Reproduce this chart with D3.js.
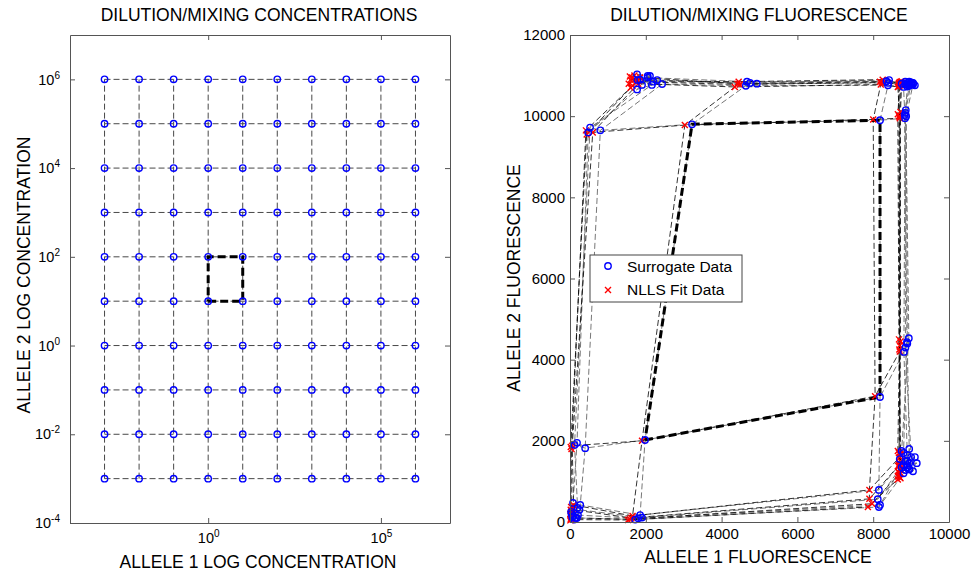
<!DOCTYPE html>
<html>
<head>
<meta charset="utf-8">
<script src="https://cdn.jsdelivr.net/npm/d3@7"></script>
<style>
  body { margin: 0; background: #fff; }
  text { font-family: "Liberation Sans", Arial, Helvetica, sans-serif; fill: #000; }
</style>
</head>
<body>
<svg id="chart" width="976" height="575"></svg>
<script>
// log10 of the concentration at each dilution step
const allele1Exps = [-3, -2, -1, 0, 1, 2, 3, 4, 5, 6];
const allele2Exps = [-3, -2, -1, 0, 1, 2, 3, 4, 5, 6];

const concXTicks = [0, 5];
const concYTicks = [-4, -2, 0, 2, 4, 6];
const fluoXTicks = [0, 2000, 4000, 6000, 8000, 10000];
const fluoYTicks = [0, 2000, 4000, 6000, 8000, 10000, 12000];

// highlighted cell: allele 1 steps 3..4, allele 2 steps 4..5
const boxCols = [3, 4];
const boxRows = [4, 5];

// fluorescence tables: one row per allele 2 step, one column per allele 1 step
const surrF1 = [
  [60, 110, 180, 1720, 8150, 8800, 8950, 9050, 8900, 8850],
  [90, 40, 210, 1800, 8180, 8750, 8900, 9150, 8950, 8800],
  [30, 150, 250, 1900, 8120, 8850, 8700, 8950, 9100, 8900],
  [80, 200, 270, 1850, 8150, 8900, 8800, 8750, 9000, 8950],
  [185, 120, 400, 1980, 8180, 8810, 8890, 8940, 8850, 8900],
  [480, 530, 800, 3220, 8180, 8840, 8830, 8860, 8850, 8870],
  [1770, 2160, 2430, 4640, 8390, 8800, 8950, 9000, 8900, 9050],
  [1900, 1780, 2300, 4930, 8400, 8850, 9000, 8950, 9050, 8950],
  [2110, 1850, 2050, 4670, 8350, 8900, 8850, 9050, 8950, 9000],
  [1770, 2050, 2200, 4750, 8420, 8750, 8900, 8950, 9000, 9100]
];
const surrF2 = [
  [120, 60, 100, 60, 370, 1200, 1300, 1250, 1350, 1280],
  [150, 200, 170, 90, 420, 1350, 1400, 1450, 1300, 1400],
  [250, 100, 300, 110, 560, 1500, 1550, 1450, 1600, 1500],
  [470, 350, 420, 170, 790, 1650, 1700, 1750, 1600, 1800],
  [1950, 1900, 1820, 2020, 3080, 4190, 4430, 4530, 4300, 4400],
  [9600, 9720, 9650, 9800, 9900, 9950, 10030, 10150, 10080, 10000],
  [10660, 10770, 10790, 10750, 10760, 10720, 10750, 10800, 10730, 10780],
  [10770, 10890, 10890, 10800, 10820, 10780, 10800, 10760, 10820, 10790],
  [10990, 10900, 10950, 10850, 10860, 10820, 10850, 10810, 10780, 10830],
  [11030, 10990, 10850, 10820, 10890, 10800, 10780, 10850, 10810, 10760]
];
const fitF1 = [
  [20, 10, 40, 1530, 7860, 8650, 8700, 8680, 8720, 8660],
  [30, 20, 60, 1580, 7970, 8700, 8650, 8720, 8680, 8700],
  [10, 40, 80, 1620, 7900, 8680, 8700, 8660, 8740, 8690],
  [30, 20, 90, 1650, 7900, 8700, 8720, 8680, 8650, 8710],
  [20, 40, 60, 1900, 8050, 8700, 8680, 8720, 8690, 8700],
  [440, 420, 600, 3030, 8000, 8700, 8650, 8720, 8680, 8700],
  [1600, 1650, 1800, 4350, 8200, 8650, 8700, 8750, 8680, 8720],
  [1550, 1700, 1750, 4480, 8230, 8700, 8680, 8720, 8750, 8690],
  [1640, 1600, 1850, 4420, 8180, 8720, 8750, 8680, 8700, 8730],
  [1700, 1580, 1800, 4450, 8250, 8680, 8720, 8700, 8740, 8760]
];
const fitF2 = [
  [80, 40, 60, 50, 370, 1050, 1100, 1150, 1080, 1120],
  [120, 150, 100, 70, 450, 1200, 1250, 1300, 1220, 1280],
  [200, 250, 300, 100, 570, 1400, 1450, 1380, 1480, 1420],
  [370, 300, 420, 150, 790, 1600, 1650, 1700, 1750, 1680],
  [1850, 1800, 1880, 2000, 3100, 4200, 4500, 4450, 4250, 4350],
  [9550, 9650, 9600, 9780, 9920, 9950, 10050, 10100, 10000, 9980],
  [10700, 10750, 10800, 10720, 10780, 10720, 10760, 10800, 10740, 10780],
  [10800, 10900, 10850, 10780, 10830, 10780, 10810, 10770, 10820, 10790],
  [10950, 10900, 10950, 10800, 10850, 10830, 10860, 10800, 10790, 10840],
  [11000, 10980, 10870, 10850, 10900, 10800, 10790, 10840, 10820, 10780]
];

const svg = d3.select("#chart");
const nR = allele2Exps.length, nC = allele1Exps.length;
const line = d3.line();

// grid lines (rows then columns) through a point getter
function gridLines(get) {
  const out = [];
  for (let r = 0; r < nR; r++) out.push(d3.range(nC).map(c => get(r, c)));
  for (let c = 0; c < nC; c++) out.push(d3.range(nR).map(r => get(r, c)));
  return out;
}
function boxPath(get) {
  const [c0, c1] = boxCols, [r0, r1] = boxRows;
  return line([get(r0, c0), get(r0, c1), get(r1, c1), get(r1, c0), get(r0, c0)]);
}

// "10" with the exponent raised
function sup(sel) {
  sel.each(function(d) {
    const t = d3.select(this).text("");
    t.append("tspan").text("10");
    t.append("tspan").attr("dy", "-0.6em").attr("font-size", "10px").text(Math.round(Math.log10(d)));
  });
}

function frame(x, y, xTicks, yTicks, xFmt, yFmt, xPad, yPad, fs) {
  const [y0, y1] = y.range(), [x0, x1] = x.range();
  const g = svg.append("g");
  const ax = [
    g.append("g").attr("transform", `translate(0,${y0})`)
      .call(d3.axisBottom(x).tickValues(xTicks).tickSizeInner(-5).tickSizeOuter(0).tickPadding(xPad).tickFormat(xFmt)),
    g.append("g").attr("transform", `translate(0,${y1})`)
      .call(d3.axisTop(x).tickValues(xTicks).tickSizeInner(-5).tickSizeOuter(0).tickFormat("")),
    g.append("g").attr("transform", `translate(${x0},0)`)
      .call(d3.axisLeft(y).tickValues(yTicks).tickSizeInner(-5).tickSizeOuter(0).tickPadding(yPad).tickFormat(yFmt)),
    g.append("g").attr("transform", `translate(${x1},0)`)
      .call(d3.axisRight(y).tickValues(yTicks).tickSizeInner(-5).tickSizeOuter(0).tickFormat(""))
  ];
  ax.forEach(a => {
    a.select(".domain").attr("stroke", "#555");
    a.selectAll(".tick line").attr("stroke", "#555");
    a.selectAll("text").attr("font-size", fs).attr("font-family", null);
  });
  return ax;
}

// ---------- left panel: concentrations ----------
const xc = d3.scaleLog().domain([1e-4, 1e7]).range([70, 450]);
const yc = d3.scaleLog().domain([1e-4, 1e7]).range([523, 35]);
const concPt = (r, c) => [xc(Math.pow(10, allele1Exps[c])), yc(Math.pow(10, allele2Exps[r]))];

const lg = svg.append("g");
lg.selectAll("path.grid").data(gridLines(concPt)).join("path")
  .attr("d", line).attr("fill", "none").attr("stroke", "#333")
  .attr("stroke-width", 0.9).attr("stroke-dasharray", "6,3");
lg.append("path").attr("d", boxPath(concPt)).attr("fill", "none")
  .attr("stroke", "#000").attr("stroke-width", 3).attr("stroke-dasharray", "8,4");
lg.selectAll("circle").data(d3.cross(d3.range(nR), d3.range(nC))).join("circle")
  .attr("cx", d => concPt(d[0], d[1])[0]).attr("cy", d => concPt(d[0], d[1])[1])
  .attr("r", 3.2).attr("fill", "none").attr("stroke", "#0000ff").attr("stroke-width", 1.4);

const la = frame(xc, yc, concXTicks.map(e => Math.pow(10, e)), concYTicks.map(e => Math.pow(10, e)),
  null, null, 10, 10, "14.5px");
sup(la[0].selectAll(".tick text"));
sup(la[2].selectAll(".tick text"));

// ---------- right panel: fluorescence ----------
const xf = d3.scaleLinear().domain([0, 10000]).range([570, 949]);
const yf = d3.scaleLinear().domain([0, 12000]).range([522, 35]);
const surrPt = (r, c) => [xf(surrF1[r][c]), yf(surrF2[r][c])];
const fitPt = (r, c) => [xf(fitF1[r][c]), yf(fitF2[r][c])];

const rg = svg.append("g");
rg.selectAll("path.sg").data(gridLines(surrPt)).join("path").attr("class", "sg")
  .attr("d", line).attr("fill", "none").attr("stroke", "#777")
  .attr("stroke-width", 1).attr("stroke-dasharray", "6,3");
rg.selectAll("path.fg").data(gridLines(fitPt)).join("path").attr("class", "fg")
  .attr("d", line).attr("fill", "none").attr("stroke", "#000")
  .attr("stroke-width", 0.8).attr("stroke-dasharray", "6,3");
rg.append("path").attr("d", boxPath(surrPt)).attr("fill", "none")
  .attr("stroke", "#000").attr("stroke-width", 3).attr("stroke-dasharray", "8,4");

const cells = d3.cross(d3.range(nR), d3.range(nC));
const cross = (cx, cy, s) => `M${cx - s},${cy - s}L${cx + s},${cy + s}M${cx - s},${cy + s}L${cx + s},${cy - s}`;
rg.selectAll("path.fit").data(cells).join("path").attr("class", "fit")
  .attr("d", d => { const p = fitPt(d[0], d[1]); return cross(p[0], p[1], 3); })
  .attr("stroke", "#ff0000").attr("stroke-width", 1.4).attr("fill", "none");
rg.selectAll("circle").data(cells).join("circle")
  .attr("cx", d => surrPt(d[0], d[1])[0]).attr("cy", d => surrPt(d[0], d[1])[1])
  .attr("r", 3.2).attr("fill", "none").attr("stroke", "#0000ff").attr("stroke-width", 1.4);

frame(xf, yf, fluoXTicks, fluoYTicks, d3.format("d"), d3.format("d"), 6, 5, "15px");

// legend
const leg = svg.append("g").attr("transform", "translate(590,255)");
leg.append("rect").attr("width", 152).attr("height", 47).attr("fill", "#fff").attr("stroke", "#444");
leg.append("circle").attr("cx", 18).attr("cy", 11).attr("r", 3.2)
  .attr("fill", "none").attr("stroke", "#0000ff").attr("stroke-width", 1.4);
leg.append("path").attr("d", cross(18, 35, 3)).attr("stroke", "#ff0000").attr("stroke-width", 1.4);
leg.append("text").attr("x", 37).attr("y", 17).attr("font-size", "15.5px").text("Surrogate Data");
leg.append("text").attr("x", 37).attr("y", 40).attr("font-size", "15.5px").text("NLLS Fit Data");

// titles and axis labels
const label = (x, y, t, rot) => svg.append("text")
  .attr("transform", `translate(${x},${y})` + (rot ? " rotate(-90)" : ""))
  .attr("text-anchor", "middle").attr("font-size", "17.5px").text(t);
label(259, 21, "DILUTION/MIXING CONCENTRATIONS");
label(759, 21, "DILUTION/MIXING FLUORESCENCE");
label(258, 568, "ALLELE 1 LOG CONCENTRATION");
label(758, 563, "ALLELE 1 FLUORESCENCE");
label(30, 275, "ALLELE 2 LOG CONCENTRATION", true);
label(520, 278, "ALLELE 2 FLUORESCENCE", true);
</script>
</body>
</html>
